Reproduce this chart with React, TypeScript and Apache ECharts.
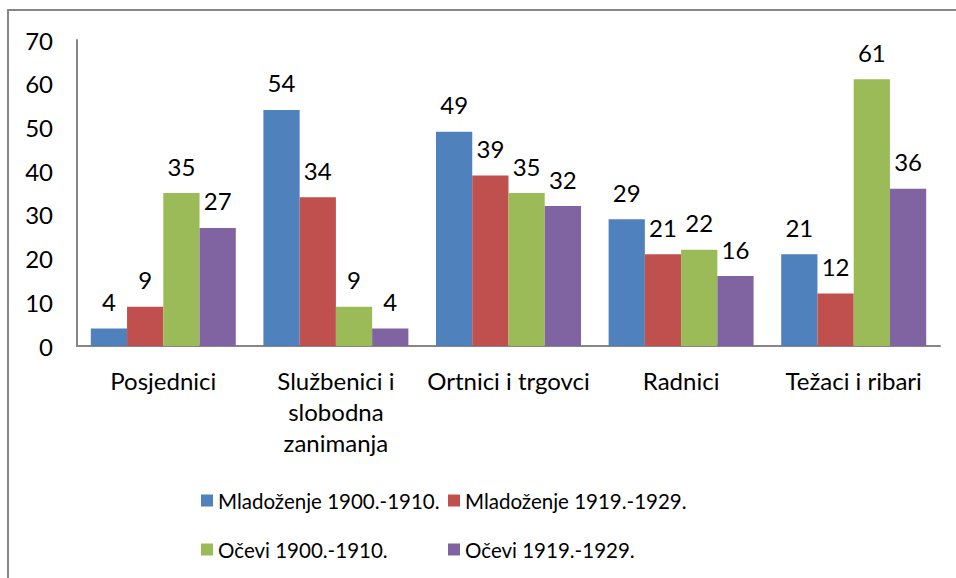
import React, { useEffect, useRef } from "react";
import * as echarts from "echarts";

const categories = ["Posjednici", "Službenici i slobodna zanimanja", "Ortnici i trgovci", "Radnici", "Težaci i ribari"];
const seriesNames = ["Mladoženje 1900.-1910.", "Mladoženje 1919.-1929.", "Očevi 1900.-1910.", "Očevi 1919.-1929."];
const mladozenje1900 = [4, 54, 49, 29, 21];
const mladozenje1919 = [9, 34, 39, 21, 12];
const ocevi1900 = [35, 9, 35, 22, 61];
const ocevi1919 = [27, 4, 32, 16, 36];
const colors = ["#4F81BD", "#C0504D", "#9BBB59", "#8064A2"];

const FONT = "Lato, 'Open Sans', sans-serif";

export default function App() {
  const ref = useRef<HTMLDivElement>(null);
  useEffect(() => {
    if (!ref.current) return;
    const chart = echarts.init(ref.current, null, { renderer: "svg" });
    const values = [mladozenje1900, mladozenje1919, ocevi1900, ocevi1919];
    const legendText = { fontFamily: FONT, fontSize: 20.5, color: "#000", lineHeight: 21 };
    chart.setOption({
      animation: false,
      textStyle: { fontFamily: FONT },
      grid: { left: 77, right: 16, top: 40, bottom: 232, containLabel: false },
      graphic: [
        { type: "line", shape: { x1: 7, y1: 10, x2: 956, y2: 10 }, style: { stroke: "#868686", lineWidth: 2 } },
        { type: "line", shape: { x1: 8, y1: 10, x2: 8, y2: 578 }, style: { stroke: "#868686", lineWidth: 2 } },
      ],
      legend: [
        {
          orient: "vertical",
          left: 196,
          top: 485,
          itemWidth: 12,
          itemHeight: 12,
          itemGap: 28,
          icon: "rect",
          data: [seriesNames[0], seriesNames[2]],
          textStyle: legendText,
        },
        {
          orient: "vertical",
          left: 443,
          top: 485,
          itemWidth: 12,
          itemHeight: 12,
          itemGap: 28,
          icon: "rect",
          data: [seriesNames[1], seriesNames[3]],
          textStyle: legendText,
        },
      ],
      xAxis: {
        type: "category",
        data: categories,
        axisLine: { lineStyle: { color: "#868686", width: 2 } },
        axisTick: { show: false },
        axisLabel: {
          interval: 0,
          margin: 19,
          fontFamily: FONT,
          fontSize: 24,
          color: "#000",
          lineHeight: 31,
          formatter: (v: string) => (v === "Službenici i slobodna zanimanja" ? "Službenici i\nslobodna\nzanimanja" : v),
        },
      },
      yAxis: {
        type: "value",
        min: 0,
        max: 70,
        interval: 10,
        axisLine: { show: true, lineStyle: { color: "#868686", width: 2 } },
        axisTick: { show: false },
        splitLine: { show: false },
        axisLabel: { margin: 24, fontFamily: FONT, fontSize: 24, color: "#000" },
      },
      series: values.map((d, i) => ({
        name: seriesNames[i],
        type: "bar",
        data: d,
        barGap: "0%",
        barCategoryGap: "16%",
        itemStyle: { color: colors[i] },
        label: { show: true, position: "top", distance: 15, fontFamily: FONT, fontSize: 24, color: "#000" },
      })),
    });
    return () => chart.dispose();
  }, []);
  return <div ref={ref} style={{ position: "fixed", left: 0, top: 0, width: 956, height: 578, background: "#fff" }} />;
}
